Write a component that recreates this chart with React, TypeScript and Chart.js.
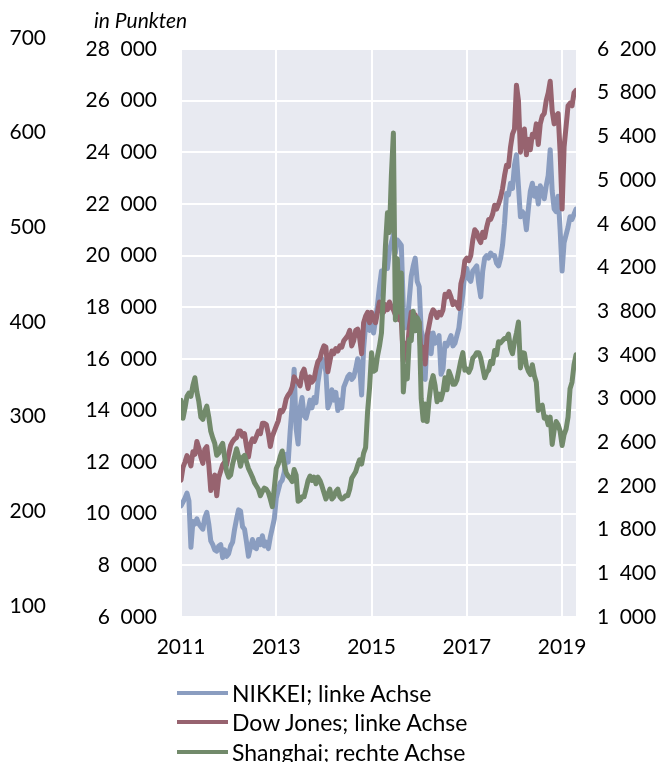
import React, { useEffect, useRef } from "react";
import { Chart, registerables } from "chart.js";

Chart.register(...registerables);

// Months covered (two observations per month: 1st and 16th)
const months = [
  "2011-01","2011-02","2011-03","2011-04","2011-05","2011-06","2011-07","2011-08","2011-09","2011-10","2011-11","2011-12",
  "2012-01","2012-02","2012-03","2012-04","2012-05","2012-06","2012-07","2012-08","2012-09","2012-10","2012-11","2012-12",
  "2013-01","2013-02","2013-03","2013-04","2013-05","2013-06","2013-07","2013-08","2013-09","2013-10","2013-11","2013-12",
  "2014-01","2014-02","2014-03","2014-04","2014-05","2014-06","2014-07","2014-08","2014-09","2014-10","2014-11","2014-12",
  "2015-01","2015-02","2015-03","2015-04","2015-05","2015-06","2015-07","2015-08","2015-09","2015-10","2015-11","2015-12",
  "2016-01","2016-02","2016-03","2016-04","2016-05","2016-06","2016-07","2016-08","2016-09","2016-10","2016-11","2016-12",
  "2017-01","2017-02","2017-03","2017-04","2017-05","2017-06","2017-07","2017-08","2017-09","2017-10","2017-11","2017-12",
  "2018-01","2018-02","2018-03","2018-04","2018-05","2018-06","2018-07","2018-08","2018-09","2018-10","2018-11","2018-12",
  "2019-01","2019-02","2019-03","2019-04",
];

// NIKKEI (left axis)
const nikkei = [
  10300,10450,10600,10800,10500,8700,9700,9600,9800,9600,9500,9400,9850,10050,9600,8950,8800,8600,8550,8750,8800,8300,8600,8350,
  8450,8750,8900,9400,9800,10150,10100,9500,9400,8900,8350,8700,9000,8700,8650,9000,8800,9150,8750,8900,8650,9100,9450,9800,
  10600,10900,11200,11300,11600,12300,12000,13200,14200,15600,13300,12700,14100,14500,13800,13700,14000,14400,14100,14500,14300,15100,15600,16000,
  15900,15500,14100,14300,14800,14400,14700,14000,14400,14100,14900,15100,15300,15400,15200,15300,15600,16000,15700,14600,16400,17300,17600,17100,
  17300,17000,17500,18100,18800,19400,19300,19800,19500,20200,20500,20800,20100,20600,20500,20400,18000,17200,17400,18300,19200,19600,19900,19000,
  18800,17100,16800,15200,16800,17000,16200,17000,16600,16700,16900,15400,15600,16600,16500,16700,16900,16500,16600,16900,17200,17900,18500,19400,
  19500,19100,19000,19400,19500,19600,18900,18400,19400,19900,20000,19900,20100,20000,20000,19700,19600,19900,20400,21250,22400,22350,22800,22600,
  23500,23900,22700,21500,21700,21600,21000,21800,22500,22800,22300,22600,22000,22700,22500,22200,22700,23100,24100,22500,21800,21700,22300,21000,
  19400,20500,20800,21100,21500,21400,21600,21800,
];

// Dow Jones (left axis)
const dowJones = [
  11300,11800,12000,12250,12100,11850,12400,12300,12800,12550,12200,11950,12500,12600,11900,10900,11300,11500,10700,11400,11650,11900,12000,11900,
  12300,12650,12800,12900,12950,13200,13200,13000,13100,12600,12200,12700,12900,12800,13000,13200,13100,13500,13500,13450,13100,12600,13000,13200,
  13400,13600,14000,13950,14100,14450,14600,14700,14900,15300,15150,15100,14950,15450,15600,15250,14850,15300,15100,15200,15600,15900,16000,16300,
  16500,16450,15500,15900,16300,16200,16400,16300,16500,16450,16700,16800,16900,17100,16500,16700,17100,17150,16800,16200,17400,17650,17800,17400,
  17800,17500,17400,17800,18200,17900,17800,18100,17900,18200,18000,17900,17700,18050,17500,17500,15900,16600,16300,17200,17800,17500,17700,17500,
  17400,16000,16450,15800,16900,17300,17700,17900,17800,17600,17800,17700,17900,18500,18400,18600,18400,18100,18200,18100,17950,18900,19200,19800,
  19900,19800,20000,20600,21000,20900,20650,20500,20900,20700,21100,21400,21400,21600,21950,21800,22000,22250,22600,23100,23500,23450,24200,24700,
  24900,26600,26000,24000,24600,24900,23900,24500,24100,24700,24600,25100,24300,25100,25400,25500,26000,26300,26750,25600,25100,25400,25500,24000,
  21800,24200,25000,25800,25900,25800,26300,26400,
];

// Shanghai (right axis)
const shanghai = [
  2985,2820,2910,3020,3050,3020,3120,3190,3060,2970,2830,2810,2880,2930,2830,2700,2640,2590,2480,2500,2560,2590,2460,2330,
  2280,2300,2400,2470,2540,2470,2380,2460,2480,2420,2360,2320,2280,2230,2200,2170,2110,2150,2180,2170,2140,2080,2010,2180,
  2360,2400,2470,2520,2400,2320,2290,2270,2240,2350,2300,2060,2070,2100,2100,2170,2250,2290,2250,2280,2220,2280,2250,2200,
  2140,2080,2120,2170,2080,2100,2150,2170,2100,2080,2090,2110,2110,2170,2270,2300,2330,2390,2440,2400,2500,2550,2880,3100,
  3420,3250,3260,3390,3480,3600,3990,4400,4700,4520,5050,5430,3720,4280,3790,4150,3060,3290,3180,3540,3530,3800,3620,3740,
  3700,3000,2800,2950,2790,2990,3140,3210,3120,2970,3040,2990,3060,3190,3080,3250,3200,3130,3130,3170,3260,3350,3420,3260,
  3270,3240,3280,3370,3390,3420,3420,3370,3280,3190,3240,3260,3340,3320,3440,3400,3520,3510,3530,3550,3550,3590,3460,3410,
  3520,3600,3700,3280,3420,3415,3300,3250,3220,3310,3210,3150,2890,2930,2940,2820,2830,2760,2830,2580,2710,2790,2760,2700,
  2570,2670,2720,2830,3090,3150,3310,3400,
];

const yearTicks = [2011, 2013, 2015, 2017, 2019];
const legendLabels = ["NIKKEI; linke Achse", "Dow Jones; linke Achse", "Shanghai; rechte Achse"];
const colors = ["#8a9dc0", "#97636f", "#728a6b"];

const times: number[] = [];
months.forEach((m) => {
  const [y, mo] = m.split("-").map(Number);
  times.push(y + (mo - 1) / 12);
  times.push(y + (mo - 0.5) / 12);
});

const toPoints = (vals: number[]) => vals.map((v, i) => ({ x: times[i], y: v }));

const fmt = (v: number) => {
  const n = Math.round(v);
  if (n >= 1000) {
    const th = Math.floor(n / 1000);
    const rest = String(n % 1000).padStart(3, "0");
    return th + "\u2002" + rest;
  }
  return String(n);
};

const FONT = "Lato, 'Open Sans', sans-serif";

const bgPlugin = {
  id: "plotBg",
  beforeDraw(chart: any) {
    const { ctx, chartArea } = chart;
    ctx.save();
    ctx.fillStyle = "#e8eaf1";
    ctx.fillRect(chartArea.left, chartArea.top, chartArea.right - chartArea.left, chartArea.bottom - chartArea.top);
    ctx.restore();
  },
};

export default function App() {
  const ref = useRef<HTMLCanvasElement | null>(null);

  useEffect(() => {
    if (!ref.current) return;
    const tickFont = { family: FONT, size: 21 };
    const chart = new Chart(ref.current, {
      type: "line",
      data: {
        datasets: [
          { label: legendLabels[0], data: toPoints(nikkei), borderColor: colors[0], yAxisID: "y", order: 2 },
          { label: legendLabels[1], data: toPoints(dowJones), borderColor: colors[1], yAxisID: "y", order: 1 },
          { label: legendLabels[2], data: toPoints(shanghai), borderColor: colors[2], yAxisID: "y2", order: 0 },
        ] as any,
      },
      options: {
        responsive: false,
        animation: false,
        devicePixelRatio: 1,
        parsing: false as any,
        elements: {
          line: { borderWidth: 5, tension: 0, borderJoinStyle: "round", borderCapStyle: "round" },
          point: { radius: 0, hoverRadius: 0 },
        },
        layout: { padding: { top: 49, left: 0, right: 0, bottom: 0 } },
        plugins: { legend: { display: false }, tooltip: { enabled: false }, title: { display: false } },
        scales: {
          x: {
            type: "linear",
            min: 2011,
            max: times[times.length - 1],
            afterBuildTicks: (s: any) => {
              s.ticks = yearTicks.map((v) => ({ value: v }));
            },
            afterFit: (s: any) => {
              s.height = 145;
            },
            ticks: { font: tickFont, color: "#000", padding: 18, maxRotation: 0, autoSkip: false, callback: (v: any) => String(v) },
            grid: { color: "#ffffff", lineWidth: 2, drawTicks: false },
            border: { display: false },
          },
          y: {
            position: "left",
            weight: 0,
            min: 6000,
            max: 28000,
            afterFit: (s: any) => {
              s.width = 121;
            },
            ticks: { stepSize: 2000, font: tickFont, color: "#000", padding: 24, callback: (v: any) => fmt(v) },
            grid: { color: "#ffffff", lineWidth: 2, drawTicks: false },
            border: { display: false },
          },
          y3: {
            position: "left",
            weight: 1,
            min: 100,
            max: 700,
            afterFit: (s: any) => {
              s.width = 60;
            },
            ticks: { stepSize: 100, font: tickFont, color: "#000", padding: 14, labelOffset: -11, callback: (v: any) => String(v) },
            grid: { display: false, drawTicks: false },
            border: { display: false },
          },
          y2: {
            position: "right",
            min: 1000,
            max: 6200,
            afterFit: (s: any) => {
              s.width = 90;
            },
            ticks: { stepSize: 400, font: tickFont, color: "#000", padding: 21, callback: (v: any) => fmt(v) },
            grid: { display: false, drawTicks: false },
            border: { display: false },
          },
        } as any,
      },
      plugins: [bgPlugin],
    });
    return () => chart.destroy();
  }, []);

  const legendTops = [693, 722, 752];

  return (
    <div style={{ position: "absolute", left: 0, top: 0, width: 666, height: 762, overflow: "hidden", background: "#fff" }}>
      <canvas ref={ref} width={666} height={762} style={{ display: "block", width: 666, height: 762 }} />
      <div
        style={{
          position: "absolute",
          left: 94,
          top: 7,
          fontFamily: FONT,
          fontStyle: "italic",
          fontSize: 21,
          lineHeight: "26px",
          color: "#000",
          whiteSpace: "nowrap",
        }}
      >
        in Punkten
      </div>
      {legendLabels.map((lab, i) => (
        <div
          key={lab}
          style={{
            position: "absolute",
            left: 177,
            top: legendTops[i] - 15,
            height: 30,
            display: "flex",
            alignItems: "center",
            fontFamily: FONT,
            fontSize: 23,
            color: "#000",
            whiteSpace: "nowrap",
          }}
        >
          <span style={{ display: "inline-block", width: 51, height: 4, background: colors[i], marginRight: 4 }} />
          <span>{lab}</span>
        </div>
      ))}
    </div>
  );
}
